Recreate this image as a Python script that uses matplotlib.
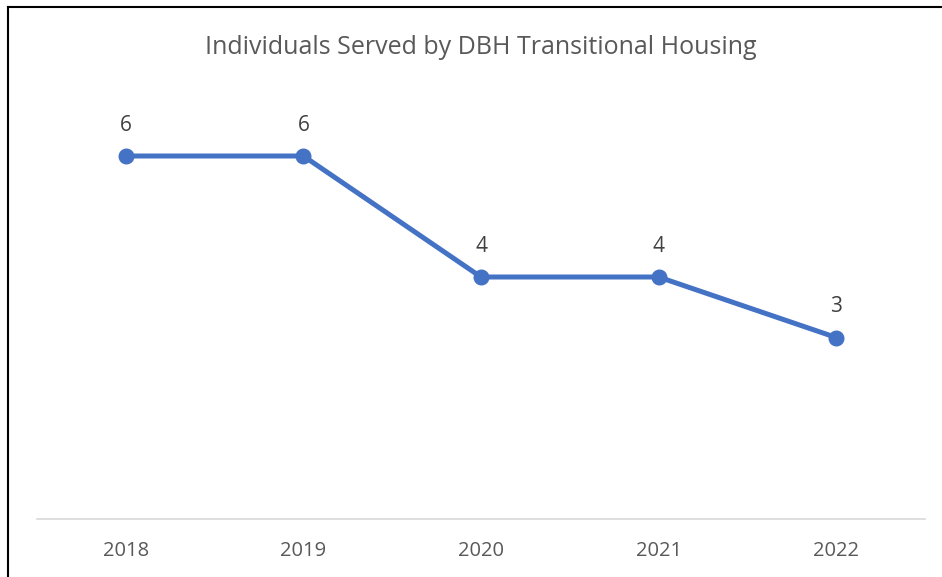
import matplotlib.pyplot as plt
from matplotlib.lines import Line2D

# Chart data
years = ['2018', '2019', '2020', '2021', '2022']
served = [6, 6, 4, 4, 3]

plt.rcParams['font.family'] = ['Open Sans', 'DejaVu Sans']

W, H = 942, 577
fig = plt.figure(figsize=(W / 100, H / 100), dpi=100)
fig.patch.set_facecolor('white')

# plot area: y=0 at 519px, y=7 at ~95px
ax = fig.add_axes([37 / W, 1 - 519 / H, (925 - 37) / W, (519 - 95.5) / H])
x = range(len(years))
ax.plot(x, served, color='#4472C4', linewidth=3.6, marker='o', markersize=10.5,
        solid_capstyle='round')

for xi, v in zip(x, served):
    ax.annotate(str(v), (xi, v), xytext=(0, 22), textcoords='offset points',
                ha='center', va='center', fontsize=15, color='#404040')

ax.set_xlim(-0.5, len(years) - 0.5)
ax.set_ylim(0, 7)
ax.set_xticks(list(x))
ax.set_xticklabels(years, fontsize=14.5, color='#595959')
ax.set_yticks([])
ax.tick_params(axis='x', length=0, pad=16)
for side in ['top', 'right', 'left']:
    ax.spines[side].set_visible(False)
ax.spines['bottom'].set_color('#D9D9D9')
ax.spines['bottom'].set_linewidth(1.2)

fig.text(481 / W, 1 - 47 / H, 'Individuals Served by DBH Transitional Housing',
         ha='center', va='center', fontsize=18, color='#595959')

# outer border (only top and left are visible in the crop)
fig.add_artist(Line2D([7.5 / W, 7.5 / W], [0, 1 - 6.5 / H], color='black', linewidth=1.5,
                      transform=fig.transFigure))
fig.add_artist(Line2D([7.5 / W, 1], [1 - 6.5 / H, 1 - 6.5 / H], color='black', linewidth=1.5,
                      transform=fig.transFigure))

fig.savefig('out.png', dpi=100)
